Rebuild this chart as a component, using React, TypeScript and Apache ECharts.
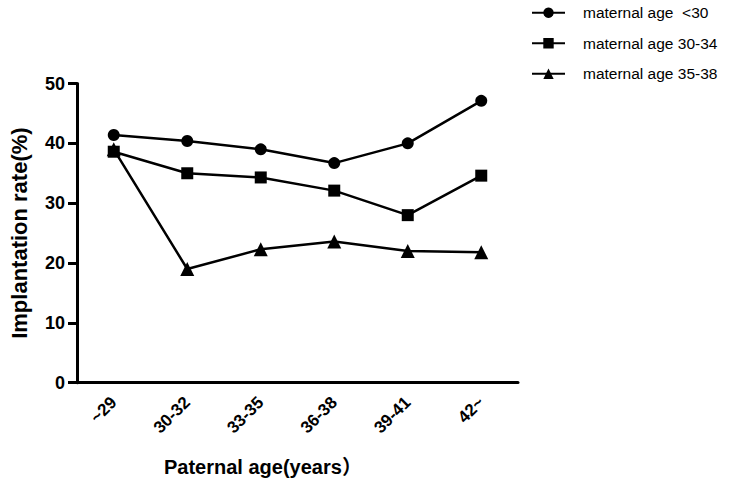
import React, { useEffect, useRef } from "react";
import * as echarts from "echarts";

const categories = ["~29", "30-32", "33-35", "36-38", "39-41", "42~"];
const seriesNames = ["maternal age  <30", "maternal age 30-34", "maternal age 35-38"];
const under30 = [41.4, 40.4, 39.0, 36.7, 40.0, 47.1];
const age30to34 = [38.6, 35.0, 34.3, 32.1, 28.0, 34.6];
const age35to38 = [39.0, 19.0, 22.3, 23.6, 22.0, 21.8];
const yTicks = { min: 0, max: 50, interval: 10 };

const FONT = "Arial, 'Liberation Sans', 'Noto Sans CJK SC', sans-serif";

export default function App() {
  const ref = useRef<HTMLDivElement>(null);
  useEffect(() => {
    if (!ref.current) return;
    const chart = echarts.init(ref.current, null, { renderer: "svg" });
    const symbols = ["circle", "rect", "triangle"];
    const sizes = [12, 12, 14];
    const data = [under30, age30to34, age35to38];
    chart.setOption({
      animation: false,
      backgroundColor: "#fff",
      grid: { left: 72, right: 232, top: 83.5, bottom: 105.3, containLabel: false },
      legend: {
        orient: "vertical",
        left: 526,
        top: 0,
        itemWidth: 33,
        itemHeight: 13,
        itemGap: 15,
        data: seriesNames,
        textStyle: { fontSize: 15.5, color: "#000", fontFamily: FONT, padding: [0, 0, 0, 13] },
      },
      xAxis: {
        type: "category",
        data: categories,
        boundaryGap: true,
        axisLine: { lineStyle: { color: "#000", width: 3 } },
        axisTick: { alignWithLabel: true, length: 9, lineStyle: { color: "#000", width: 3 } },
        axisLabel: {
          rotate: 45,
          margin: 17,
          fontSize: 17,
          fontWeight: "bold",
          color: "#000",
          fontFamily: FONT,
        },
      },
      yAxis: {
        type: "value",
        min: yTicks.min,
        max: yTicks.max,
        interval: yTicks.interval,
        name: "Implantation rate(%)",
        nameLocation: "middle",
        nameGap: 47,
        nameTextStyle: { fontSize: 22, fontWeight: "bold", color: "#000", fontFamily: FONT },
        splitLine: { show: false },
        axisLine: { show: true, lineStyle: { color: "#000", width: 3 } },
        axisTick: { show: true, length: 9, lineStyle: { color: "#000", width: 3 } },
        axisLabel: { margin: 12, fontSize: 18, fontWeight: "bold", color: "#000", fontFamily: FONT },
      },
      graphic: [
        {
          type: "text",
          left: 164,
          top: 457,
          style: {
            text: "Paternal age(years）",
            fontSize: 20,
            fontWeight: "bold",
            fill: "#000",
            fontFamily: FONT,
          },
        },
      ],
      series: seriesNames.map((name, i) => ({
        name,
        type: "line",
        data: data[i],
        symbol: symbols[i],
        symbolSize: sizes[i],
        showAllSymbol: true,
        itemStyle: { color: "#000" },
        lineStyle: { color: "#000", width: 2.5 },
        z: 3 - i,
      })),
    });
    return () => chart.dispose();
  }, []);
  return (
    <div
      ref={ref}
      style={{ position: "fixed", left: 0, top: 0, width: 750, height: 488, background: "#fff" }}
    />
  );
}
